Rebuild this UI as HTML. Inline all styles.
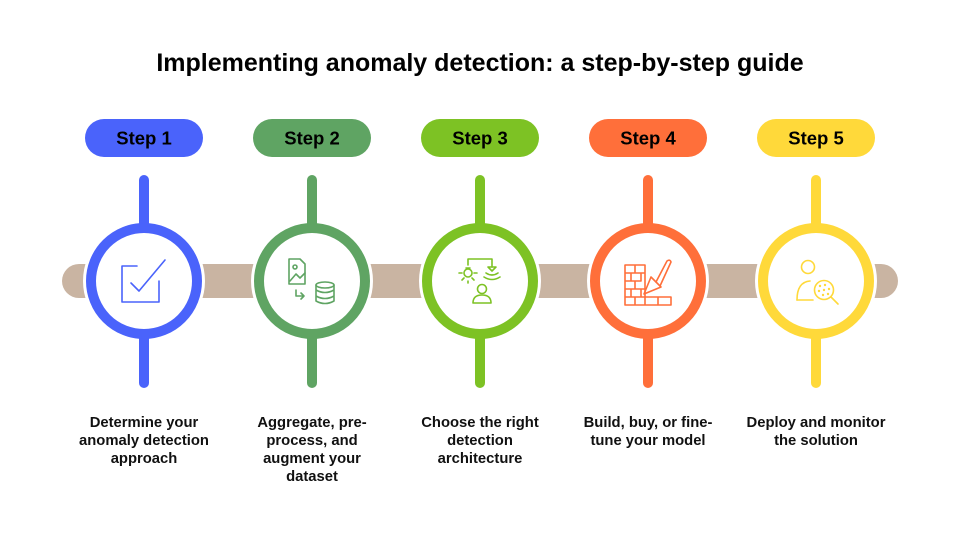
<!DOCTYPE html>
<html><head><meta charset="utf-8"><style>
html,body{margin:0;padding:0;background:#fff;}
svg{display:block;font-family:"Liberation Sans",sans-serif;}
</style></head><body>
<svg width="960" height="534" viewBox="0 0 960 534" xmlns="http://www.w3.org/2000/svg">
<text x="480" y="71" text-anchor="middle" font-size="25" font-weight="bold" fill="#000">Implementing anomaly detection: a step-by-step guide</text>
<rect x="62" y="264" width="836" height="34" rx="17" fill="#c9b4a2"/>
<g fill="#fff">
<circle cx="144" cy="281" r="61"/><circle cx="312" cy="281" r="61"/><circle cx="480" cy="281" r="61"/><circle cx="648" cy="281" r="61"/><circle cx="816" cy="281" r="61"/>
</g>
<g font-size="18.5" font-weight="bold" text-anchor="middle" fill="#000">
<rect x="85" y="119" width="118" height="38" rx="19" fill="#4a63fb"/>
<text x="144" y="144.5">Step 1</text>
<rect x="139" y="175" width="10" height="213" rx="5" fill="#4a63fb"/>
<circle cx="144" cy="281" r="53" fill="#fff" stroke="#4a63fb" stroke-width="10"/>
<rect x="253" y="119" width="118" height="38" rx="19" fill="#5fa463"/>
<text x="312" y="144.5">Step 2</text>
<rect x="307" y="175" width="10" height="213" rx="5" fill="#5fa463"/>
<circle cx="312" cy="281" r="53" fill="#fff" stroke="#5fa463" stroke-width="10"/>
<rect x="421" y="119" width="118" height="38" rx="19" fill="#7dc224"/>
<text x="480" y="144.5">Step 3</text>
<rect x="475" y="175" width="10" height="213" rx="5" fill="#7dc224"/>
<circle cx="480" cy="281" r="53" fill="#fff" stroke="#7dc224" stroke-width="10"/>
<rect x="589" y="119" width="118" height="38" rx="19" fill="#ff6f3a"/>
<text x="648" y="144.5">Step 4</text>
<rect x="643" y="175" width="10" height="213" rx="5" fill="#ff6f3a"/>
<circle cx="648" cy="281" r="53" fill="#fff" stroke="#ff6f3a" stroke-width="10"/>
<rect x="757" y="119" width="118" height="38" rx="19" fill="#ffd93a"/>
<text x="816" y="144.5">Step 5</text>
<rect x="811" y="175" width="10" height="213" rx="5" fill="#ffd93a"/>
<circle cx="816" cy="281" r="53" fill="#fff" stroke="#ffd93a" stroke-width="10"/>
</g>
<g fill="none" stroke-width="1.6" stroke-linecap="round" stroke-linejoin="round">
<g stroke="#4a63fb">
<path d="M137 266 H122 V302 H159 V281"/>
<path d="M131 283 L139 291 L165 260"/>
</g>
<g stroke="#5fa463">
<path d="M289 259 H300 L305 264 V284 H289 Z"/>
<circle cx="295" cy="267" r="2"/>
<path d="M290 281 L296 274 L300 278 L305 273"/>
<path d="M296 290 V296 H304 M301 293 L304 296 L301 299"/>
<ellipse cx="325" cy="285" rx="9" ry="3"/>
<path d="M316 285 V301 Q325 306 334 301 V285 M316 290 Q325 295 334 290 M316 296 Q325 301 334 296"/>
</g>
<g stroke="#7dc224">
<path d="M468 265 V259 H492 V267"/>
<circle cx="468" cy="273" r="4"/>
<path d="M466 268 H470 M459 273 H462 M474 273 H477 M462 280 L464 278 M474 280 L472 278 M468 281 V283"/>
<path d="M488 267 H496 L492 271 Z"/>
<path d="M486 273 Q492 277 498 273 M484 277 Q492 282 500 277"/>
<circle cx="482" cy="289" r="4.5"/>
<path d="M473 303 Q473 295 482 295 Q491 295 491 303 Z"/>
</g>
<g stroke="#ff6f3a">
<path d="M625 265 H645 V305 H625 Z M625 273 H645 M625 281 H641 M625 289 H645 M625 297 H671 V305 H645 M635 265 V273 M631 273 V281 M641 273 V281 M635 281 V289 M631 289 V297 M641 289 V297 M635 297 V305 M658 297 V305"/>
<path d="M644 294 L651 277 L661 287 Z"/>
<path d="M656 282 L667 261 Q670 259 671 262 L660 286"/>
</g>
<g stroke="#ffd93a">
<circle cx="808" cy="267" r="6.5"/>
<path d="M797 300 Q797 282 810 281"/>
<path d="M797 300 H813"/>
<circle cx="824" cy="290" r="9.5"/>
<path d="M831 297 L838 304"/>
</g>
<g fill="#ffd93a">
<circle cx="820" cy="286" r="1.2"/><circle cx="825" cy="285" r="1.2"/><circle cx="829" cy="289" r="1.2"/>
<circle cx="819" cy="291" r="1.2"/><circle cx="824" cy="290" r="1.2"/><circle cx="828" cy="294" r="1.2"/>
<circle cx="823" cy="295" r="1.2"/>
</g>
</g>
<g font-size="14.8" font-weight="bold" text-anchor="middle" fill="#111">
<text x="144" y="427">Determine your</text>
<text x="144" y="445">anomaly detection</text>
<text x="144" y="463">approach</text>
<text x="312" y="427">Aggregate, pre-</text>
<text x="312" y="445">process, and</text>
<text x="312" y="463">augment your</text>
<text x="312" y="481">dataset</text>
<text x="480" y="427">Choose the right</text>
<text x="480" y="445">detection</text>
<text x="480" y="463">architecture</text>
<text x="648" y="427">Build, buy, or fine-</text>
<text x="648" y="445">tune your model</text>
<text x="816" y="427">Deploy and monitor</text>
<text x="816" y="445">the solution</text>
</g>
</svg>
</body></html>
